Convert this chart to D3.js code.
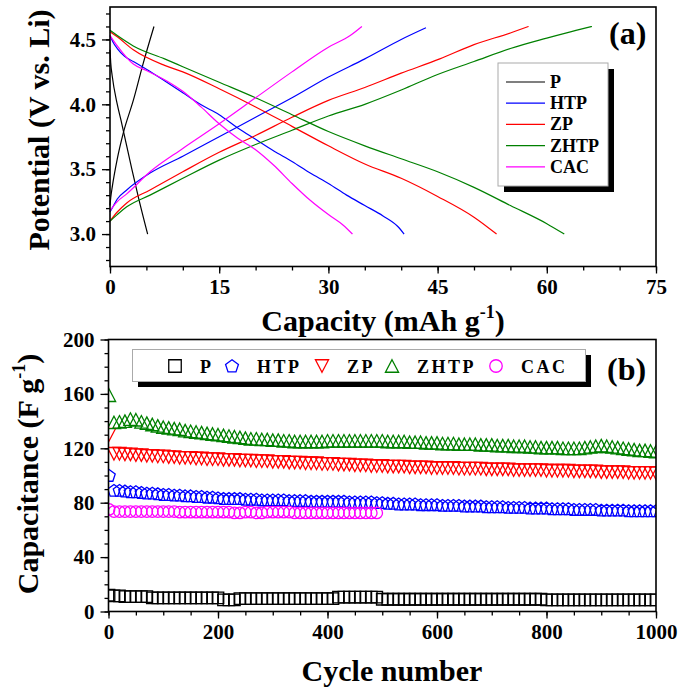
<!DOCTYPE html>
<html><head><meta charset="utf-8">
<script src="https://cdn.jsdelivr.net/npm/d3@7/dist/d3.min.js"></script>
<style>
html,body{margin:0;padding:0;background:#fff;}
svg{display:block;}
text{font-family:"Liberation Serif","Times New Roman",serif;font-weight:bold;fill:#000;}
</style></head>
<body>
<svg id="chart" width="684" height="696"></svg>
<script>
// ---------------- DATA (a): charge / discharge curves [capacity mAh/g, potential V] ----------------
const seriesNames = ["P","HTP","ZP","ZHTP","CAC"];
const seriesColors = ["#000000","#0000ff","#ff0000","#008000","#ff00ff"];

const P_charge = [[0,3.22],[0.1,3.28],[0.3,3.36],[1.0,3.58],[1.83,3.78],[3.2,4.03],[4.58,4.32],[6.04,4.6]];
const P_discharge = [[0,4.42],[0.1,4.32],[0.3,4.22],[1.0,4.0],[1.5,3.88],[3.0,3.5],[4.0,3.26],[5.17,3.0]];

const HTP_charge = [[0,3.17],[0.5,3.22],[1,3.27],[2.3,3.34],[5.5,3.47],[10,3.6],[15,3.75],[20,3.9],[25,4.05],[30,4.21],[35,4.35],[40,4.5],[43.4,4.59]];
const HTP_discharge = [[0,4.53],[0.5,4.47],[1,4.43],[2,4.37],[3.2,4.33],[5,4.27],[7.8,4.17],[10,4.09],[12.4,4.0],[15,3.92],[17.5,3.82],[20,3.73],[22.5,3.64],[25,3.56],[27.5,3.47],[30,3.39],[32.5,3.3],[35,3.22],[37.5,3.14],[39.5,3.06],[40.4,3.0]];

const ZP_charge = [[0,3.1],[1,3.17],[2.3,3.24],[5.5,3.34],[10,3.48],[15,3.63],[20,3.76],[25,3.9],[30,4.03],[35,4.13],[40,4.24],[45.3,4.35],[50,4.46],[55,4.55],[57.5,4.6]];
const ZP_discharge = [[0,4.56],[1,4.52],[3.2,4.42],[7.5,4.3],[10,4.25],[15,4.12],[20,3.98],[25,3.83],[30,3.68],[35,3.54],[40,3.43],[45,3.29],[50,3.13],[53.1,3.0]];

const ZHTP_charge = [[0,3.1],[1,3.15],[2.3,3.21],[5.5,3.3],[10,3.43],[15,3.57],[20,3.69],[25,3.8],[30,3.91],[35,4.0],[40,4.11],[45,4.23],[50,4.33],[55,4.43],[60,4.51],[64,4.57],[66.2,4.6]];
const ZHTP_discharge = [[0,4.57],[1,4.53],[3.2,4.45],[7.5,4.35],[10,4.29],[15,4.17],[20,4.05],[25,3.92],[30,3.79],[35,3.68],[40,3.58],[45,3.48],[50,3.36],[55,3.22],[60,3.08],[62.4,3.0]];

const CAC_charge = [[0,3.18],[1,3.25],[2.3,3.31],[5.5,3.48],[10,3.66],[15,3.85],[20,4.05],[25,4.25],[30,4.44],[33,4.53],[34.6,4.6]];
const CAC_discharge = [[0,4.53],[1,4.45],[3.2,4.31],[5,4.26],[7.8,4.18],[10,4.1],[12.5,3.98],[15,3.85],[17.5,3.74],[20,3.65],[22.5,3.53],[25,3.39],[27.5,3.26],[30,3.15],[32,3.07],[33.3,3.0]];

const capTicks = [0,15,30,45,60,75];
const potTicks = [3.0,3.5,4.0,4.5];

// ---------------- DATA (b): capacitance vs cycle ----------------
const cycles = [1,10,20,30,40,50,60,70,80,90,100,110,120,130,140,150,160,170,180,190,200,
 210,220,230,240,250,260,270,280,290,300,310,320,330,340,350,360,370,380,390,400,
 410,420,430,440,450,460,470,480,490,500,510,520,530,540,550,560,570,580,590,600,
 610,620,630,640,650,660,670,680,690,700,710,720,730,740,750,760,770,780,790,800,
 810,820,830,840,850,860,870,880,890,900,910,920,930,940,950,960,970,980,990,1000];

const capP = [12,
 11.5,11.5,11,11,11,11,11,10,10,10,
 10,10,10,10,10,10,10,10,10,10,
 8.5,8.5,8.5,9.5,9.5,9.5,9.5,9.5,9.5,9.5,
 9.5,9.5,9.5,9.5,9.5,9.5,9.5,9.5,9.5,9.5,
 9.5,10.5,10.5,10.5,10.5,10.5,10.5,10.5,10.5,9,
 9,9,9,9,9,9,9,9,9,9,
 9,9,9,9,9,9,9,9,9,9,
 9,9,9,9,9,9,9,9,9,8.5,
 8.5,8.5,8.5,8.5,8.5,8.5,8.5,8.5,8.5,8.5,
 8.5,8.5,8.5,8.5,8.5,8.5,8.5,8.5,8.5,8.5];

const capHTP = [100,
 89,89,88.5,88,88,87.5,87,87,86.5,86,
 86,85.5,85.5,85,85,84.5,84.5,84,84,83.5,
 83,83,83,83,82.5,82.5,82.5,82,82,82,
 82,82,81.5,81.5,81.5,81.5,81,81,81,81,
 81,81,81,80.5,80.5,80.5,80.5,80.5,80,80,
 79.5,79.5,79,79,79,79,78.5,78.5,78.5,78.5,
 78,78,78,78,77.5,77.5,77.5,77.5,77,77,
 77,77,76.5,76.5,76.5,76.5,76,76,76,76,
 75.5,75.5,75.5,75.5,75,75,75,75,75,74.5,
 74.5,74.5,74.5,74.5,74,74,74,74,74,74];

const capZP = [130,
 116,116,115.5,115.5,115,115,114.5,114.5,114,114,
 113.5,113.5,113,113,113,112.5,112.5,112,112,112,
 111.5,111.5,111.5,111,111,111,110.5,110.5,110.5,110,
 110,110,109.5,109.5,109.5,109,109,109,108.5,108.5,
 108.5,108,108,108,107.5,107.5,107.5,107,107,107,
 106.5,106.5,106.5,106.5,106,106,106,106,105.5,105.5,
 105.5,105.5,105.5,105,105,105,105,105,104.5,104.5,
 104.5,104.5,104.5,104,104,104,104,104,104,103.5,
 103.5,103.5,103.5,103.5,103,103,103,103,103,102.5,
 102.5,102.5,102.5,102.5,102,102,102,102,102,101.5];

const capZHTP = [159,
 139,139.5,140,141.5,141,139.5,138.5,137.5,136.5,135.5,
 135,134.5,134,133,132.5,132,131.5,131,130.5,130,
 129.5,129,128.5,128,127.5,127,127,126.5,126.5,126,
 126,125.5,125.5,125,125,125,125,125,125,125.5,
 125.5,125.5,125.5,125.5,125.5,125.5,125.5,125.5,125.5,125.5,
 125,125,125,125,124.5,124.5,124.5,124,124,124,
 123.5,123.5,123.5,123,123,123,123,122.5,122.5,122.5,
 122,122,122,121.5,121.5,121.5,121,121,120.5,120.5,
 120.5,120.5,120,120,120,120,120.5,121,121.5,122,
 121.5,121,120.5,120,119.5,119,118.5,118.5,118,117.5];

const cyclesCAC = [1,10,20,30,40,50,60,70,80,90,100,110,120,130,140,150,160,170,180,190,200,
 210,220,230,240,250,260,270,280,290,300,310,320,330,340,350,360,370,380,390,400,
 410,420,430,440,450,460,470,480,490];
const capCAC = [75,
 73.5,73.5,73.5,73.5,73.5,73.5,73.5,73.5,73.5,73.5,
 73.5,73.5,73,73,73,73,73,73,73,73,
 73,73,72.5,72.5,73,73,72.5,72.5,73,73,
 73,73,73,72.5,72.5,72.5,72.5,72.5,72.5,72.5,
 72.5,72.5,72.5,72.5,72.5,72.5,72.5,72.5,72.5];

const cycleTicks = [0,200,400,600,800,1000];
const capacitanceTicks = [0,40,80,120,160,200];

// ---------------- DRAW ----------------
const svg = d3.select("#chart");

function drawAxes(g, x, y, xMajor, xMinorStep, yMajor, yMinorStep, yFmt) {
  const [x0,x1] = x.range(), [y0,y1] = y.range();
  const xd = x.domain(), yd = y.domain();
  const xMinor = d3.range(xd[0], xd[1]+1e-9, xMinorStep);
  const yMinor = d3.range(Math.ceil(yd[0]/yMinorStep-1e-9)*yMinorStep, yd[1]+1e-9, yMinorStep);
  const ax1 = g.append("g").attr("transform",`translate(0,${y0})`)
    .call(d3.axisBottom(x).tickValues(xMinor).tickSize(4).tickFormat(""));
  const ax2 = g.append("g").attr("transform",`translate(0,${y0})`)
    .call(d3.axisBottom(x).tickValues(xMajor).tickSize(7).tickPadding(6).tickFormat(d3.format("d")));
  const ay1 = g.append("g").attr("transform",`translate(${x0},0)`)
    .call(d3.axisLeft(y).tickValues(yMinor).tickSize(4).tickFormat(""));
  const ay2 = g.append("g").attr("transform",`translate(${x0},0)`)
    .call(d3.axisLeft(y).tickValues(yMajor).tickSize(8).tickPadding(6).tickFormat(yFmt));
  [ax1,ax2,ay1,ay2].forEach(a=>{
    a.select(".domain").remove();
    a.selectAll("line").attr("stroke","#000").attr("stroke-width",1.3);
    a.selectAll("text").attr("font-size",21).attr("font-family","Liberation Serif").attr("font-weight","bold").attr("fill","#000");
  });
  g.append("rect").attr("x",x0).attr("y",y1).attr("width",x1-x0).attr("height",y0-y1)
    .attr("fill","none").attr("stroke","#000").attr("stroke-width",1.6);
}

// ===== Panel (a) =====
const xa = d3.scaleLinear().domain([0,75]).range([110,656]);
const ya = d3.scaleLinear().domain([2.75,4.75]).range([266.5,7]);
const ga = svg.append("g");
const curves = [
  [P_charge,P_discharge],[HTP_charge,HTP_discharge],[ZP_charge,ZP_discharge],
  [ZHTP_charge,ZHTP_discharge],[CAC_charge,CAC_discharge]
];
const lineA = d3.line().x(d=>xa(d[0])).y(d=>ya(d[1])).curve(d3.curveMonotoneX);
curves.forEach((pair,i)=>{
  pair.forEach(arr=>{
    ga.append("path").attr("d",lineA(arr)).attr("fill","none")
      .attr("stroke",seriesColors[i]).attr("stroke-width",1.2);
  });
});
drawAxes(ga, xa, ya, capTicks, 5, potTicks, 0.1, d3.format(".1f"));

{
  const t = svg.append("text").attr("x",383).attr("y",331).attr("text-anchor","middle").attr("font-size",30);
  t.append("tspan").text("Capacity (mAh g");
  t.append("tspan").attr("font-size",18).attr("dy",-13).text("-1");
  t.append("tspan").attr("dy",13).text(")");
}
svg.append("text").attr("transform","translate(49,130) rotate(-90)").attr("text-anchor","middle")
  .attr("font-size",30).text("Potential (V vs. Li)");
svg.append("text").attr("x",609).attr("y",44).attr("font-size",32).text("(a)");

// legend (a)
const lgA = svg.append("g");
lgA.append("rect").attr("x",504).attr("y",69).attr("width",110).attr("height",123).attr("fill","#000");
lgA.append("rect").attr("x",498).attr("y",63).attr("width",110).attr("height",123)
  .attr("fill","#fff").attr("stroke","#aaa").attr("stroke-width",1);
seriesNames.forEach((n,i)=>{
  const yy = 82 + i*21.2;
  lgA.append("line").attr("x1",506).attr("x2",545).attr("y1",yy).attr("y2",yy)
    .attr("stroke",seriesColors[i]).attr("stroke-width",1.2);
  lgA.append("text").attr("x",550).attr("y",yy+6).attr("font-size",18).text(n);
});

// ===== Panel (b) =====
const xb = d3.scaleLinear().domain([0,1000]).range([108.5,656]);
const yb = d3.scaleLinear().domain([0,200]).range([611.5,339.5]);
const gb = svg.append("g");

svg.append("defs").append("clipPath").attr("id","clipb").append("rect")
  .attr("x",108.5).attr("y",339.5).attr("width",656-108.5).attr("height",611.5-339.5);

function markerPath(shape, s) {
  const h = s/2;
  if (shape==="square") return `M${-h},${-h}H${h}V${h}H${-h}Z`;
  if (shape==="triUp") return `M0,${-h}L${h*1.05},${h}L${-h*1.05},${h}Z`;
  if (shape==="triDown") return `M0,${h}L${h*1.05},${-h}L${-h*1.05},${-h}Z`;
  if (shape==="pentagon") {
    const r = s/1.85, pts=[];
    for (let k=0;k<5;k++){const a=-Math.PI/2+k*2*Math.PI/5; pts.push([r*Math.cos(a), r*Math.sin(a)+0.5]);}
    return "M"+pts.map(p=>p[0].toFixed(2)+","+p[1].toFixed(2)).join("L")+"Z";
  }
  if (shape==="circle") { const r=h; return `M${r},0A${r},${r} 0 1,1 ${-r},0A${r},${r} 0 1,1 ${r},0Z`; }
}
const shapes = ["square","pentagon","triDown","triUp","circle"];
const markerSizes = [11.5,12,12.5,12.5,11.5];
const bSeries = [
  {x:cycles, y:capP}, {x:cycles, y:capHTP}, {x:cycles, y:capZP},
  {x:cycles, y:capZHTP}, {x:cyclesCAC, y:capCAC}
];
const plotB = gb.append("g").attr("clip-path","url(#clipb)");
bSeries.forEach((s,i)=>{
  const pts = s.x.map((c,k)=>[c, s.y[k]]);
  plotB.selectAll(null).data(pts).enter().append("path")
    .attr("transform",d=>`translate(${xb(d[0])},${yb(d[1])})`)
    .attr("d",markerPath(shapes[i], markerSizes[i]))
    .attr("fill","none").attr("stroke",seriesColors[i]).attr("stroke-width",1.3);
});
drawAxes(gb, xb, yb, cycleTicks, 50, capacitanceTicks, 10, d3.format("d"));

svg.append("text").attr("x",392).attr("y",681).attr("text-anchor","middle").attr("font-size",30).text("Cycle number");
{
  const t = svg.append("text").attr("transform","translate(38,474) rotate(-90)").attr("text-anchor","middle").attr("font-size",30);
  t.append("tspan").text("Capacitance (F g");
  t.append("tspan").attr("font-size",18).attr("dy",-13).text("-1");
  t.append("tspan").attr("dy",13).text(")");
}
svg.append("text").attr("x",607).attr("y",380).attr("font-size",32).text("(b)");

// legend (b)
const lgB = svg.append("g");
lgB.append("rect").attr("x",138).attr("y",355).attr("width",453).attr("height",32).attr("fill","#000");
lgB.append("rect").attr("x",132.5).attr("y",349.5).attr("width",453).attr("height",32)
  .attr("fill","#fff").attr("stroke","#aaa").attr("stroke-width",1);
const lgMarkX = [175,232,322,392,496];
const lgTextX = [200,257,347,417,521];
seriesNames.forEach((n,i)=>{
  lgB.append("path").attr("transform",`translate(${lgMarkX[i]},366)`)
    .attr("d",markerPath(shapes[i],12.5)).attr("fill","none")
    .attr("stroke",seriesColors[i]).attr("stroke-width",1.3);
  lgB.append("text").attr("x",lgTextX[i]).attr("y",372.5).attr("font-size",18)
    .attr("letter-spacing",2.5).text(n);
});
</script>
</body></html>
